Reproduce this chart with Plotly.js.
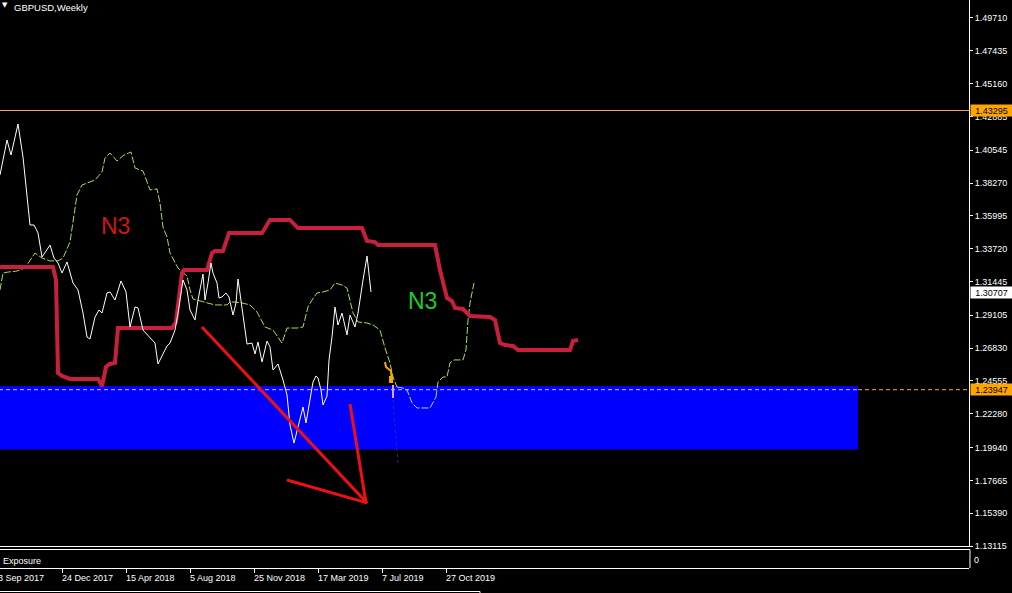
<!DOCTYPE html>
<html><head><meta charset="utf-8">
<script src="https://cdn.plot.ly/plotly-3.0.1.min.js"></script>
<style>html,body{margin:0;padding:0;background:#000;}#chart{width:1012px;height:593px;}</style>
</head><body><div id="chart"></div>
<script>
// x values are week indexes counted from 3 Sep 2017 (week 0)
const dateTickWeeks = [0,16,32,48,64,80,96,112];
const dateTickLabels = ['3 Sep 2017','24 Dec 2017','15 Apr 2018','5 Aug 2018','25 Nov 2018','17 Mar 2019','7 Jul 2019','27 Oct 2019'];
const priceTickLabels = ['1.49710','1.47435','1.45160','1.42885','1.40545','1.38270','1.35995','1.33720','1.31445','1.29105','1.26830','1.24555','1.22280','1.19940','1.17665','1.15390','1.13115'];
const priceTickValues = priceTickLabels.map(Number);

// weekly close (white line)
const closeWeeks = [0.5,2.25,3.25,5,6.25,7.25,8,9,10,11,13,14,15,16,17.25,18.75,20,21.25,22.25,23,24.25,25.25,26,27.25,28,29.25,30.75,32,33,34.25,35,36.25,38,39.25,40,42.25,43,44.25,45,46.25,47.25,48,49.25,50,51.25,51.75,52.5,53.25,53.75,54.75,55.25,56,57,57.75,58.75,59.5,60,60.75,61.5,62.25,63.5,64.25,65,66,67.25,68,68.75,70,71.25,72.25,73,74,75,76.25,77,77.75,78.75,79.5,80,80.75,81.25,82.25,82.75,83.5,84.25,85,86,87.25,88,89.25,90,91.25,92.25,93.25];
const closePrices = [1.3883,1.4125,1.4021,1.4236,1.4007,1.3758,1.3536,1.3536,1.3481,1.3314,1.3397,1.3307,1.3273,1.3203,1.3280,1.3134,1.3086,1.2926,1.2760,1.2746,1.2898,1.2947,1.2926,1.3065,1.3072,1.3016,1.3148,1.3072,1.2829,1.2968,1.2961,1.2808,1.2753,1.2718,1.2573,1.2698,1.2718,1.2808,1.2926,1.3155,1.3086,1.2947,1.2878,1.3016,1.3196,1.3016,1.3134,1.3273,1.3203,1.3134,1.3030,1.3037,1.3065,1.3037,1.2912,1.2996,1.3162,1.3016,1.2878,1.2711,1.2718,1.2642,1.2725,1.2587,1.2732,1.2691,1.2531,1.2573,1.2462,1.2358,1.2150,1.2025,1.2136,1.2275,1.2164,1.2275,1.2448,1.2490,1.2476,1.2393,1.2289,1.2351,1.2601,1.2760,1.2968,1.2843,1.2926,1.2774,1.2912,1.2829,1.2926,1.3155,1.3321,1.3072];

// thick crimson step line
const kijunWeeks = [0,13.75,14.5,15,16,18,25,26,27,28,29.25,30,43.5,44.5,46,46.5,52.25,53.5,54.25,56.25,57.75,66,68,73,75,91,92.25,94.25,95,109.25,110.5,112.25,113.5,114.25,116.25,118,123,124.25,125.5,126.75,128.75,130,143,143.75,145];
const kijunPrices = [1.3245,1.3245,1.3155,1.2510,1.2490,1.2469,1.2469,1.2420,1.2552,1.2573,1.2580,1.2822,1.2822,1.2864,1.3203,1.3224,1.3224,1.3342,1.3356,1.3356,1.3481,1.3481,1.3571,1.3571,1.3515,1.3515,1.3425,1.3418,1.3397,1.3397,1.3224,1.3030,1.3009,1.2961,1.2954,1.2905,1.2898,1.2878,1.2718,1.2704,1.2698,1.2670,1.2670,1.2732,1.2739];

// green dashed line (three pieces; middle piece shown cyan over the zone)
const spanWeeksA = [0.5,1.25,2.5,4.75,6.75,8.5,9.25,11,13,15,16.25,18,19,19.75,21,24.25,26,26.75,28,29.75,31.5,33.25,34.25,36.25,38,39.75,40.5,41.25,42.25,43,45,46,47.25,48,48.75,51.75,54.25,57.25,58,59.25,61,63,64.75,66.75,68.75,71,72.25,74.75,76.25,77.5,78.5,79.75,81.25,83,84.25,86,87.25,88.75,90,92.25,93.75,95.5,96.75,98,98.75,99.75];
const spanPricesA = [1.3086,1.3203,1.3210,1.3217,1.3238,1.3307,1.3342,1.3307,1.3287,1.3287,1.3307,1.3418,1.3591,1.3744,1.3813,1.3848,1.3903,1.4000,1.4035,1.3980,1.4021,1.4042,1.3931,1.3910,1.3779,1.3786,1.3689,1.3522,1.3453,1.3342,1.3238,1.3210,1.3183,1.3086,1.3023,1.3002,1.2982,1.2982,1.3002,1.3002,1.2996,1.2982,1.2933,1.2829,1.2808,1.2718,1.2822,1.2822,1.2829,1.2968,1.3016,1.3065,1.3072,1.3086,1.3134,1.3120,1.3099,1.2926,1.2864,1.2857,1.2843,1.2808,1.2684,1.2580,1.2483,1.2413];
const spanWeeksB = [99.75,101.25,102.25,103.5,104.75,108,109.5];
const spanPricesB = [1.2413,1.2406,1.2393,1.2303,1.2268,1.2268,1.2344];
const spanWeeksC = [109.5,110,111.25,112.25,113,114,116.25,117,117.5,118,119];
const spanPricesC = [1.2344,1.2448,1.2483,1.2483,1.2580,1.2601,1.2601,1.2670,1.2878,1.2996,1.3134];

// small marks near Jul 2019
const orangeWeeks = [96.75,97,98.25,98.5];
const orangePrices = [1.2587,1.2552,1.2524,1.2441];
const orangeBlockWeeks = [98.25,98.25];
const orangeBlockPrices = [1.2490,1.2441];
const pinkWeeks = [98.75,98.75];
const pinkPrices = [1.2427,1.2337];
const dotWeeks = [98.75,100];
const dotPrices = [1.2323,1.1887];

// drawn arrow (three red segments)
const arrowWeeks = [51,92.25,null,88,92,null,72.25,92.25];
const arrowPrices = [1.2829,1.1610,null,1.2296,1.1610,null,1.1769,1.1610];

// zone and levels
const zoneLow = 1.1980, zoneHigh = 1.2420, zoneEndWeek = 215;
const alertLevel = 1.43295;
const dashedLevel = 1.23947;
const currentPrice = 1.30707;
const textMarks = [{t:'N3', w:29.25, p:1.3529, c:'#D41414'}, {t:'N3', w:106, p:1.3009, c:'#22CC22'}];

const FONT = 'Liberation Sans, Arial, sans-serif';
const H = 568; // plot area height in px
const py = v => (H - v) / H;

const traces = [
  {x: spanWeeksA, y: spanPricesA, mode:'lines', line:{color:'#A6E04A', width:1, dash:'7px,2px'}},
  {x: spanWeeksB, y: spanPricesB, mode:'lines', line:{color:'#9FE0E8', width:1, dash:'7px,2px'}},
  {x: spanWeeksC, y: spanPricesC, mode:'lines', line:{color:'#A6E04A', width:1, dash:'7px,2px'}},
  {x: kijunWeeks, y: kijunPrices, mode:'lines', line:{color:'#C8203C', width:4}},
  {x: closeWeeks, y: closePrices, mode:'lines', line:{color:'#FFFFFF', width:1}},
  {x: orangeWeeks, y: orangePrices, mode:'lines', line:{color:'#FFA500', width:2}},
  {x: orangeBlockWeeks, y: orangeBlockPrices, mode:'lines', line:{color:'#FFA500', width:4}},
  {x: pinkWeeks, y: pinkPrices, mode:'lines', line:{color:'#E0A0F0', width:2}},
  {x: dotWeeks, y: dotPrices, mode:'lines', line:{color:'#2A2A9A', width:1, dash:'dot'}},
  {x: arrowWeeks, y: arrowPrices, mode:'lines', line:{color:'#EE1111', width:3}, connectgaps:false}
];

const shapes = [
  {type:'rect', xref:'x', yref:'y', x0:-5, x1:zoneEndWeek, y0:zoneLow, y1:zoneHigh, fillcolor:'#0000FF', line:{width:0}, layer:'below'},
  {type:'line', xref:'x', yref:'y', x0:-5, x1:zoneEndWeek, y0:dashedLevel, y1:dashedLevel, line:{color:'#D8C8FF', width:1, dash:'4px,3px'}, layer:'below'},
  {type:'line', xref:'x', yref:'y', x0:zoneEndWeek, x1:260, y0:dashedLevel, y1:dashedLevel, line:{color:'#F4A460', width:1, dash:'4px,3px'}, layer:'below'},
  {type:'line', xref:'paper', yref:'y', x0:0, x1:1, y0:alertLevel, y1:alertLevel, line:{color:'#F0A070', width:1}, layer:'below'},
  // window frames
  {type:'line', xref:'paper', yref:'paper', x0:0, x1:1, y0:py(546.5), y1:py(546.5), line:{color:'#FFFFFF', width:1}},
  {type:'line', xref:'paper', yref:'paper', x0:0, x1:1.001, y0:py(549.5), y1:py(549.5), line:{color:'#FFFFFF', width:1}},
  {type:'line', xref:'paper', yref:'paper', x0:1.001, x1:1.001, y0:py(549.5), y1:py(568), line:{color:'#FFFFFF', width:1}},
  {type:'line', xref:'paper', yref:'paper', x0:0, x1:480/969, y0:py(591.5), y1:py(591.5), line:{color:'#FFFFFF', width:1}},
  {type:'line', xref:'paper', yref:'paper', x0:480/969, x1:480/969, y0:py(591.5), y1:py(594), line:{color:'#FFFFFF', width:1}}
];

const annotations = [];
// date labels placed to the right of their ticks (MT4 style)
const xr = [0.5, 242.75];
dateTickWeeks.forEach((w,i) => {
  const xv = Math.max(w, xr[0]);
  annotations.push({xref:'x', yref:'paper', x:xv, y:py(578), xanchor:'left', yanchor:'middle', xshift:(w - xv)*4 - 2,
    text:dateTickLabels[i], showarrow:false, font:{family:FONT, size:9, color:'#FFFFFF'}});
});
// price boxes on right scale
[[alertLevel,'#FFA500'],[currentPrice,'#FFFFFF'],[dashedLevel,'#FFA500']].forEach(([p,bg]) => {
  annotations.push({xref:'paper', yref:'y', x:1, y:p, xanchor:'left', yanchor:'middle', xshift:1,
    text:p.toFixed(5), showarrow:false, bgcolor:bg, width:41, height:11, align:'center', borderpad:0,
    font:{family:FONT, size:9, color:'#000000'}});
});
textMarks.forEach(m => annotations.push({xref:'x', yref:'y', x:m.w, y:m.p, text:m.t, showarrow:false,
  font:{family:'Liberation Sans Narrow, Arial Narrow, Arial, sans-serif', size:23, color:m.c}}));
annotations.push({xref:'paper', yref:'paper', x:0, y:1, xanchor:'left', yanchor:'top', xshift:12, yshift:0,
  text:'GBPUSD,Weekly', showarrow:false, font:{family:FONT, size:9.5, color:'#FFFFFF'}});
annotations.push({xref:'paper', yref:'paper', x:0, y:1, xanchor:'left', yanchor:'top', xshift:0, yshift:1,
  text:'▼', showarrow:false, font:{family:'DejaVu Sans', size:7, color:'#FFFFFF'}});
annotations.push({xref:'paper', yref:'paper', x:0, y:py(561), xanchor:'left', yanchor:'middle', xshift:1,
  text:'Exposure', showarrow:false, font:{family:FONT, size:9, color:'#FFFFFF'}});
annotations.push({xref:'paper', yref:'paper', x:1, y:py(560), xanchor:'left', yanchor:'middle', xshift:3,
  text:'0', showarrow:false, font:{family:FONT, size:9, color:'#FFFFFF'}});

const layout = {
  width:1012, height:593,
  margin:{l:0, r:43, t:0, b:25, pad:0},
  paper_bgcolor:'#000000', plot_bgcolor:'#000000',
  showlegend:false, hovermode:false,
  xaxis:{range:xr, anchor:'free', position:0, showgrid:false, zeroline:false,
    showline:true, linecolor:'#FFFFFF', linewidth:1,
    ticks:'outside', ticklen:4, tickwidth:1, tickcolor:'#FFFFFF',
    tickmode:'array', tickvals:dateTickWeeks, showticklabels:false, fixedrange:true},
  yaxis:{domain:[py(547), 1], range:[1.13046, 1.50953], side:'right', showgrid:false, zeroline:false,
    showline:true, linecolor:'#FFFFFF', linewidth:1,
    ticks:'outside', ticklen:3, tickwidth:1, tickcolor:'#FFFFFF',
    tickmode:'array', tickvals:priceTickValues, ticktext:priceTickLabels,
    tickfont:{family:FONT, size:9, color:'#FFFFFF'}, fixedrange:true},
  shapes:shapes, annotations:annotations
};

Plotly.newPlot('chart', traces, layout, {staticPlot:true, displayModeBar:false});
</script></body></html>
